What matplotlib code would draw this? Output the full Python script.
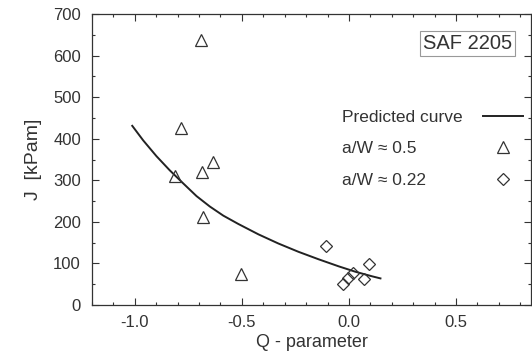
import matplotlib
matplotlib.use("Agg")
import matplotlib.pyplot as plt
from matplotlib.ticker import MultipleLocator, FixedFormatter, FixedLocator

plt.rcParams['font.family'] = ['Liberation Sans', 'DejaVu Sans']

# Predicted curve
curve_q = [-1.012, -0.961, -0.899, -0.837, -0.775, -0.712, -0.65, -0.587, -0.517,
           -0.423, -0.33, -0.236, -0.142, -0.048, 0.03, 0.108, 0.147]
curve_j = [431, 396, 358, 324, 293, 262, 237, 215, 195,
           170, 148, 128, 110, 93, 80, 69, 64]

# a/W ~ 0.5 (triangles)
tri_q = [-0.69, -0.783, -0.634, -0.684, -0.814, -0.68, -0.505]
tri_j = [637, 425, 344, 320, 310, 212, 75]

# a/W ~ 0.22 (diamonds)
dia_q = [-0.107, 0.094, 0.019, -0.005, -0.03, 0.072]
dia_j = [143, 99, 76, 66, 50, 62]

xticks = [-1.0, -0.5, 0.0, 0.5]
xticklabels = ['-1.0', '-0.5', '0.0', '0.5']
yticks = [0, 100, 200, 300, 400, 500, 600, 700]

fig = plt.figure(figsize=(5.32, 3.57), dpi=100)
ax = fig.add_axes([92/532, 1 - 305/357, (531 - 92)/532, (305 - 14)/357])

ax.plot(curve_q, curve_j, color='#222222', lw=1.4, label='Predicted curve')
ax.plot(tri_q, tri_j, linestyle='none', marker='^', ms=9, mfc='none', mec='#333333', mew=0.9,
        label='a/W \u2248 0.5')
ax.plot(dia_q, dia_j, linestyle='none', marker='D', ms=6.5, mfc='none', mec='#333333', mew=0.9,
        label='a/W \u2248 0.22')

ax.set_xlim(-1.2, 0.85)
ax.set_ylim(0, 700)
ax.xaxis.set_major_locator(FixedLocator(xticks))
ax.xaxis.set_major_formatter(FixedFormatter(xticklabels))
ax.xaxis.set_minor_locator(MultipleLocator(0.1))
ax.yaxis.set_major_locator(FixedLocator(yticks))
ax.yaxis.set_minor_locator(MultipleLocator(50))

ax.tick_params(which='both', direction='in', top=True, right=True, color='#333333',
               labelsize=12, labelcolor='#333333', width=0.8)
ax.tick_params(which='major', length=5)
ax.tick_params(which='minor', length=2.5)
ax.tick_params(axis='x', pad=7)
ax.tick_params(axis='y', pad=8)

for s in ax.spines.values():
    s.set_color('#333333')
    s.set_linewidth(0.9)

ax.set_xlabel('Q - parameter', fontsize=13, color='#333333', labelpad=3)
ax.set_ylabel('J  [kPam]', fontsize=14, color='#333333', labelpad=8)

ax.text(0.856, 0.897, 'SAF 2205', transform=ax.transAxes, ha='center', va='center',
        fontsize=14.5, color='#333333',
        bbox=dict(boxstyle='square,pad=0.15', fc='white', ec='#999999', lw=0.8))

leg = ax.legend(loc='upper left', bbox_to_anchor=(0.553, 0.695), frameon=False, markerfirst=False,
                fontsize=12.5, handlelength=2.3, handletextpad=1.0, labelspacing=0.95,
                borderaxespad=0)
for t in leg.get_texts():
    t.set_color('#333333')
# left-align the labels, right-align the keys
for col in leg._legend_handle_box.get_children():
    for item in col.get_children():
        item.mode = 'expand'
        item.width = 181

fig.savefig('out.png', dpi=100)
